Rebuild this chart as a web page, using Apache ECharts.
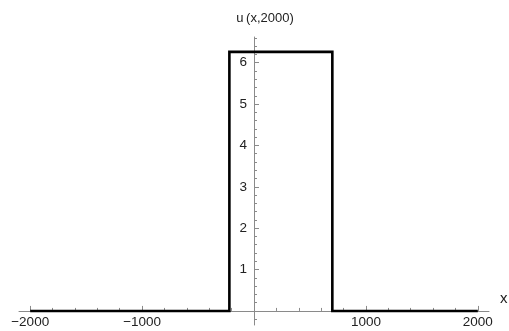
<!DOCTYPE html>
<html>
<head>
<meta charset="utf-8">
<script src="https://cdn.jsdelivr.net/npm/echarts@6/dist/echarts.min.js"></script>
<style>
  html, body { margin: 0; padding: 0; background: #fff; }
  #chart { width: 509px; height: 331px; }
</style>
</head>
<body>
<div id="chart"></div>
<script>
// Profile u(x, 2000): a square pulse sitting on a zero baseline
const xValues = [-2000, -220, -220, 700, 700, 2000];
const uValues = [0, 0, 6.26, 6.26, 0, 0];

// Axis tick positions
const xMajorTicks = [-2000, -1000, 1000, 2000];
const xMinorTicks = [-1800, -1600, -1400, -1200, -800, -600, -400, -200,
                     200, 400, 600, 800, 1200, 1400, 1600, 1800];
const yMajorTicks = [1, 2, 3, 4, 5, 6];
const yMinorTicks = [-0.2, 0.2, 0.4, 0.6, 0.8, 1.2, 1.4, 1.6, 1.8, 2.2, 2.4, 2.6, 2.8,
                     3.2, 3.4, 3.6, 3.8, 4.2, 4.4, 4.6, 4.8, 5.2, 5.4, 5.6, 5.8,
                     6.2, 6.4, 6.6];

const xRange = [-2100, 2100];
const yRange = [-0.34, 6.62];

const gridLeft = 19, gridTop = 37, gridWidth = 470, gridHeight = 288;
// Both axes cross at the origin: shift each one inward from the grid edge
const yAxisShift = -gridWidth * (0 - xRange[0]) / (xRange[1] - xRange[0]);
const xAxisShift = -gridHeight * (0 - yRange[0]) / (yRange[1] - yRange[0]);

const axisGray = '#8a8a8a';
const labelFont = { color: '#222', fontFamily: 'Liberation Sans, Arial, sans-serif', fontSize: 13.5 };
const fmtNum = v => (v < 0 ? '\u2212' + Math.abs(v) : String(v));

const chart = echarts.init(document.getElementById('chart'), null, { renderer: 'canvas' });

chart.setOption({
  animation: false,
  backgroundColor: '#fff',
  grid: { left: gridLeft, top: gridTop, width: gridWidth, height: gridHeight,
          containLabel: false, outerBoundsMode: 'none' },
  xAxis: [
    {
      type: 'value', min: xRange[0], max: xRange[1],
      position: 'bottom', offset: xAxisShift,
      axisLine: { show: true, onZero: false, lineStyle: { color: axisGray, width: 1 } },
      axisTick: { show: true, inside: true, length: 5, customValues: xMajorTicks,
                  lineStyle: { color: axisGray, width: 1 } },
      axisLabel: { show: true, customValues: xMajorTicks, margin: 4, formatter: fmtNum, ...labelFont },
      splitLine: { show: false },
      name: 'x', nameLocation: 'end', nameGap: 11,
      nameTextStyle: { ...labelFont, fontSize: 15, verticalAlign: 'bottom', padding: [0, 0, 5, 0] }
    },
    {
      type: 'value', min: xRange[0], max: xRange[1],
      position: 'bottom', offset: xAxisShift,
      axisLine: { show: false, onZero: false },
      axisTick: { show: true, inside: true, length: 3, customValues: xMinorTicks,
                  lineStyle: { color: axisGray, width: 1 } },
      axisLabel: { show: false },
      splitLine: { show: false }
    }
  ],
  yAxis: [
    {
      type: 'value', min: yRange[0], max: yRange[1],
      position: 'left', offset: yAxisShift,
      axisLine: { show: true, onZero: false, lineStyle: { color: axisGray, width: 1 } },
      axisTick: { show: true, inside: true, length: 5, customValues: yMajorTicks,
                  lineStyle: { color: axisGray, width: 1 } },
      axisLabel: { show: true, customValues: yMajorTicks, margin: 7, ...labelFont },
      splitLine: { show: false },
      name: 'u\u2009(x,2000)', nameLocation: 'end', nameGap: 12,
      nameTextStyle: { ...labelFont, fontSize: 13, padding: [0, 0, 0, 22] }
    },
    {
      type: 'value', min: yRange[0], max: yRange[1],
      position: 'left', offset: yAxisShift,
      axisLine: { show: false, onZero: false },
      axisTick: { show: true, inside: true, length: 3, customValues: yMinorTicks,
                  lineStyle: { color: axisGray, width: 1 } },
      axisLabel: { show: false },
      splitLine: { show: false }
    }
  ],
  series: [
    {
      type: 'line',
      xAxisIndex: 0, yAxisIndex: 0,
      data: xValues.map((x, i) => [x, uValues[i]]),
      showSymbol: false,
      clip: false,
      lineStyle: { color: '#000', width: 2.6, join: 'miter', cap: 'butt' }
    }
  ]
});
</script>
</body>
</html>
